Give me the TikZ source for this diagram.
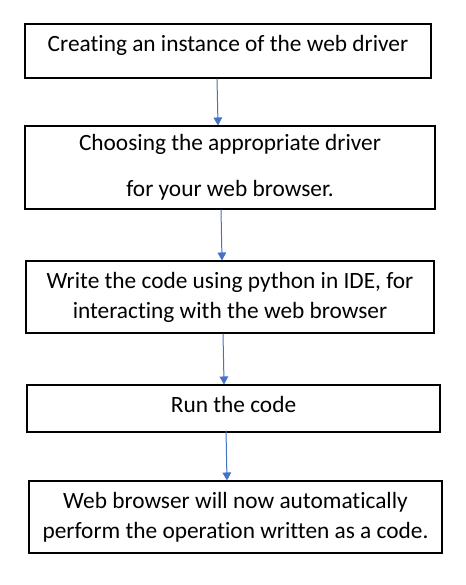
\documentclass[tikz,border=0pt]{standalone}
\usepackage{fontspec}
\setmainfont{Carlito}[Ligatures={NoCommon}]
\usetikzlibrary{arrows.meta}
\definecolor{flowblue}{HTML}{4472C4}

\begin{document}
\begin{tikzpicture}[x=0.75pt,y=-0.75pt]
\tikzstyle{every node}+=[font=\fontsize{17.5}{22.5}\selectfont]
\tikzstyle{box}=[draw=black,line width=0.8pt,rectangle,align=center,inner sep=2pt]
\tikzstyle{flow}=[draw=flowblue,line width=0.75pt,-{Triangle[width=6.5pt,length=6pt]}]
\useasboundingbox (0,0) rectangle (465,585);
\node [box,minimum width=304.5pt,minimum height=40.5pt,text depth=12pt] (b1) at (228,51) {Creating an instance of the web driver};
\node [box,minimum width=307.5pt,minimum height=62.25pt] (b2) at (230,167.5) {Choosing the appropriate driver\\[12pt]for your web browser.};
\node [box,minimum width=306pt,minimum height=54pt] (b3) at (230,297) {Write the code using python in IDE, for\\interacting with the web browser};
\node [box,minimum width=309.75pt,minimum height=35.25pt,text depth=6pt] (b4) at (233.5,408.5) {Run the code};
\node [box,minimum width=309.75pt,minimum height=54pt] (b5) at (235.5,517) {Web browser will now automatically\\perform the operation written as a code.};
\draw [flow] ([xshift=-8.25pt]b1.south) -- ([xshift=-9pt]b2.north);
\draw [flow] ([xshift=-6.75pt]b2.south) -- ([xshift=-6pt]b3.north);
\draw [flow] ([xshift=-5.25pt]b3.south) -- ([xshift=-7.1pt]b4.north);
\draw [flow] ([xshift=-5.6pt,yshift=1.5pt]b4.south) -- ([xshift=-6.4pt]b5.north);
\end{tikzpicture}
\end{document}
